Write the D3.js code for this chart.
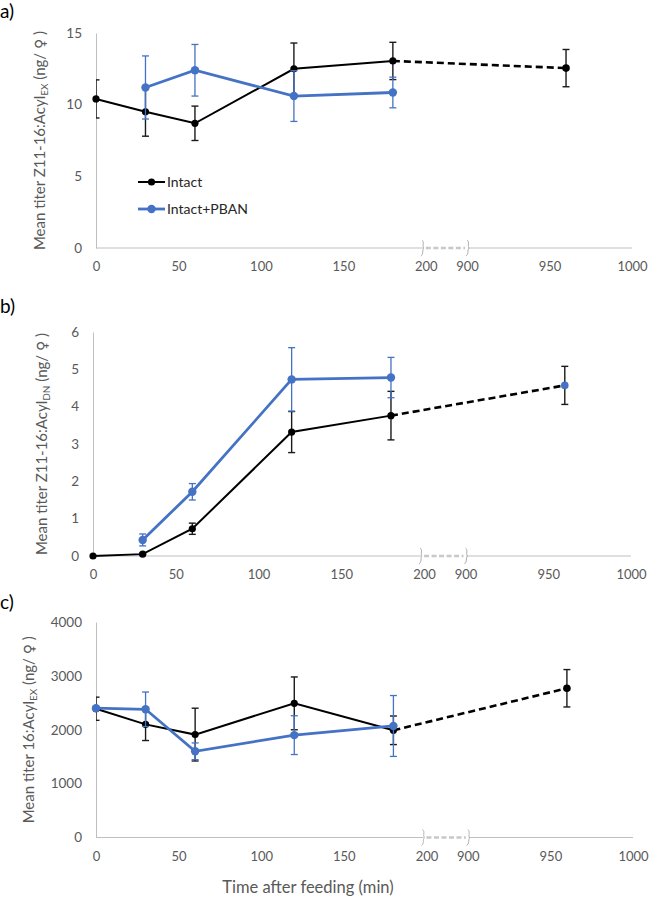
<!DOCTYPE html>
<html><head><meta charset="utf-8">
<script src="https://cdn.jsdelivr.net/npm/d3@7"></script>
<style>body{margin:0;background:#fff}svg{display:block}</style>
</head><body>
<svg id="c" width="649" height="898"></svg>
<script>
// ---- data ----
const times = [0, 30, 60, 120, 180];
const lateTime = 960;
const xTickLabels = [0, 50, 100, 150, 200, 900, 950, 1000];

const intactA = [10.4, 9.5, 8.7, 12.5, 13.05];
const intactAErr = [1.33, 1.7, 1.2, 1.8, 1.3];
const intactALate = 12.55, intactALateErr = 1.3;
const pbanA = [null, 11.2, 12.4, 10.6, 10.85];
const pbanAErr = [null, 2.2, 1.8, 1.77, 1.07];
const yTicksA = [0, 5, 10, 15];

const intactB = [0, 0.05, 0.73, 3.32, 3.76];
const intactBErr = [0, 0.02, 0.15, 0.55, 0.65];
const intactBLate = 4.57, intactBLateErr = 0.51;
const pbanB = [null, 0.43, 1.72, 4.73, 4.78];
const pbanBErr = [null, 0.16, 0.22, 0.85, 0.54];
const yTicksB = [0, 1, 2, 3, 4, 5, 6];

const intactC = [2390, 2100, 1910, 2490, 1990];
const intactCErr = [215, 300, 490, 490, 265];
const intactCLate = 2770, intactCLateErr = 347;
const pbanC = [2400, 2380, 1600, 1900, 2070];
const pbanCErr = [0, 320, 155, 360, 565];
const yTicksC = [0, 1000, 2000, 3000, 4000];

const seriesNames = ["Intact", "Intact+PBAN"];

// ---- drawing ----
const svg = d3.select("#c");
const BLACK = "#000000", BLUE = "#4472C4", AXIS = "#bfbfbf", TXT = "#595959";
const FONT = "Lato, 'Open Sans', sans-serif";
// broken axis: 0..200 continuous, then 900.. shifted
const fwd = t => t <= 200 ? t : t - 675;

const panels = [
  {label:"a)", ly:18, x0:96, x1:632, top:33, bot:248, ymax:15, ticks:yTicksA,
   intact:intactA, ie:intactAErr, late:intactALate, le:intactALateErr, pban:pbanA, pe:pbanAErr,
   sub:"EX", pre:"Mean titer Z11-16:Acyl", tx:45, legend:true, lateColor:BLACK},
  {label:"b)", ly:313, x0:93, x1:631, top:332, bot:556, ymax:6, ticks:yTicksB,
   intact:intactB, ie:intactBErr, late:intactBLate, le:intactBLateErr, pban:pbanB, pe:pbanBErr,
   sub:"DN", pre:"Mean titer Z11-16:Acyl", tx:47, legend:false, lateColor:BLUE},
  {label:"c)", ly:609, x0:96, x1:633, top:622, bot:837.5, ymax:4000, ticks:yTicksC,
   intact:intactC, ie:intactCErr, late:intactCLate, le:intactCLateErr, pban:pbanC, pe:pbanCErr,
   sub:"EX", pre:"Mean titer 16:Acyl", tx:34, legend:false, lateColor:BLACK}
];

panels.forEach((p, pi) => {
  const g = svg.append("g");
  const x = d3.scaleLinear().domain([0, 325]).range([p.x0, p.x1]);
  const y = d3.scaleLinear().domain([0, p.ymax]).range([p.bot, p.top]);
  const clipId = "clip" + pi;
  svg.append("clipPath").attr("id", clipId).append("rect")
    .attr("x", p.x0).attr("y", 0).attr("width", p.x1 - p.x0 + 20).attr("height", 898);

  // panel label
  g.append("text").attr("x", 0).attr("y", p.ly).attr("font-family", FONT)
    .attr("font-size", 19).attr("fill", "#000").text(p.label);

  // y axis
  const ya = d3.axisLeft(y).tickValues(p.ticks).tickSize(0).tickPadding(14).tickFormat(d3.format("d"));
  const yg = g.append("g").attr("transform", `translate(${p.x0},0)`).call(ya);
  yg.select(".domain").attr("stroke", AXIS);
  yg.selectAll("text").attr("font-family", FONT).attr("font-size", 13.5).attr("fill", TXT);

  // x axis (broken)
  const xa = d3.axisBottom(x).tickValues(xTickLabels.map(fwd)).tickSize(0).tickPadding(14)
    .tickFormat((d, i) => xTickLabels[i]);
  const xg = g.append("g").attr("transform", `translate(0,${p.bot})`).call(xa);
  xg.select(".domain").remove();
  xg.selectAll("text").attr("font-family", FONT).attr("font-size", 13).attr("fill", TXT);
  const bL = x(fwd(200)) - 3, bR = x(fwd(900)) + 1;
  g.append("line").attr("x1", p.x0).attr("x2", bL).attr("y1", p.bot).attr("y2", p.bot)
    .attr("stroke", AXIS).attr("stroke-width", 1);
  g.append("line").attr("x1", bR).attr("x2", p.x1).attr("y1", p.bot).attr("y2", p.bot)
    .attr("stroke", AXIS).attr("stroke-width", 1);
  g.append("line").attr("x1", bL + 3).attr("x2", bR - 3).attr("y1", p.bot).attr("y2", p.bot)
    .attr("stroke", "#c8c8c8").attr("stroke-width", 2.5).attr("stroke-dasharray", "5,2.5");
  [bL, bR].forEach(bx => {
    g.append("path")
      .attr("d", `M${bx-1},${p.bot-8} C${bx+2},${p.bot-6} ${bx-1},${p.bot-2} ${bx+1},${p.bot} C${bx-1},${p.bot+2} ${bx+1},${p.bot+6} ${bx-2},${p.bot+8}`)
      .attr("fill", "none").attr("stroke", "#b0b0b0").attr("stroke-width", 1);
  });

  // y title
  const tt = g.append("text").attr("transform", `translate(${p.tx},${(p.top + p.bot) / 2}) rotate(-90)`)
    .attr("text-anchor", "middle").attr("font-family", FONT).attr("font-size", 15).attr("fill", TXT);
  tt.append("tspan").text(p.pre);
  tt.append("tspan").attr("font-size", 10).attr("dy", 3).text(p.sub);
  tt.append("tspan").attr("dy", -3).text(" (ng/ ");
  tt.append("tspan").attr("font-family", "'DejaVu Sans', sans-serif").attr("font-size", 14).text("♀");
  tt.append("tspan").text(" )");

  const line = d3.line().x(d => x(fwd(d.t))).y(d => y(d.v));
  const mk = (vals, errs) => times.map((t, i) => ({t, v: vals[i], e: errs[i]})).filter(d => d.v !== null);

  function errbars(data, color, w) {
    const eg = g.append("g").attr("clip-path", `url(#${clipId})`);
    data.filter(d => d.e > 0).forEach(d => {
      const cx = x(fwd(d.t));
      eg.append("line").attr("x1", cx).attr("x2", cx).attr("y1", y(d.v - d.e)).attr("y2", y(d.v + d.e))
        .attr("stroke", color).attr("stroke-width", w);
      [d.v - d.e, d.v + d.e].forEach(v => eg.append("line").attr("x1", cx - 3.5).attr("x2", cx + 3.5)
        .attr("y1", y(v)).attr("y2", y(v)).attr("stroke", color).attr("stroke-width", w));
    });
  }

  // intact (black)
  const di = mk(p.intact, p.ie);
  const dl = {t: lateTime, v: p.late, e: p.le};
  g.append("path").datum(di).attr("d", line).attr("fill", "none").attr("stroke", BLACK).attr("stroke-width", 2);
  g.append("path").datum([di[di.length - 1], dl]).attr("d", line).attr("fill", "none")
    .attr("stroke", BLACK).attr("stroke-width", 2.6).attr("stroke-dasharray", "7,4");
  errbars(di.concat([dl]), "#1a1a1a", 1.4);
  g.selectAll(null).data(di).enter().append("circle").attr("cx", d => x(fwd(d.t))).attr("cy", d => y(d.v))
    .attr("r", 3.6).attr("fill", BLACK);
  g.append("circle").attr("cx", x(fwd(dl.t))).attr("cy", y(dl.v)).attr("r", 3.8).attr("fill", p.lateColor);

  // pban (blue)
  const dp = mk(p.pban, p.pe);
  g.append("path").datum(dp).attr("d", line).attr("fill", "none").attr("stroke", BLUE).attr("stroke-width", 2.8);
  errbars(dp, BLUE, 1.3);
  g.selectAll(null).data(dp).enter().append("circle").attr("cx", d => x(fwd(d.t))).attr("cy", d => y(d.v))
    .attr("r", 4.2).attr("fill", BLUE);

  if (p.legend) {
    const lg = g.append("g");
    [[BLACK, 2, 3.6], [BLUE, 2.8, 4.2]].forEach((s, i) => {
      const ly = 182 + i * 27;
      lg.append("line").attr("x1", 138).attr("x2", 165).attr("y1", ly).attr("y2", ly)
        .attr("stroke", s[0]).attr("stroke-width", s[1]);
      lg.append("circle").attr("cx", 151.5).attr("cy", ly).attr("r", s[2]).attr("fill", s[0]);
      lg.append("text").attr("x", 167).attr("y", ly + 5).attr("font-family", FONT).attr("font-size", 14)
        .attr("fill", "#262626").text(seriesNames[i]);
    });
  }
});

// x title
svg.append("text").attr("x", 308).attr("y", 893).attr("text-anchor", "middle")
  .attr("font-family", FONT).attr("font-size", 16.5).attr("fill", TXT).text("Time after feeding (min)");
</script>
</body></html>
